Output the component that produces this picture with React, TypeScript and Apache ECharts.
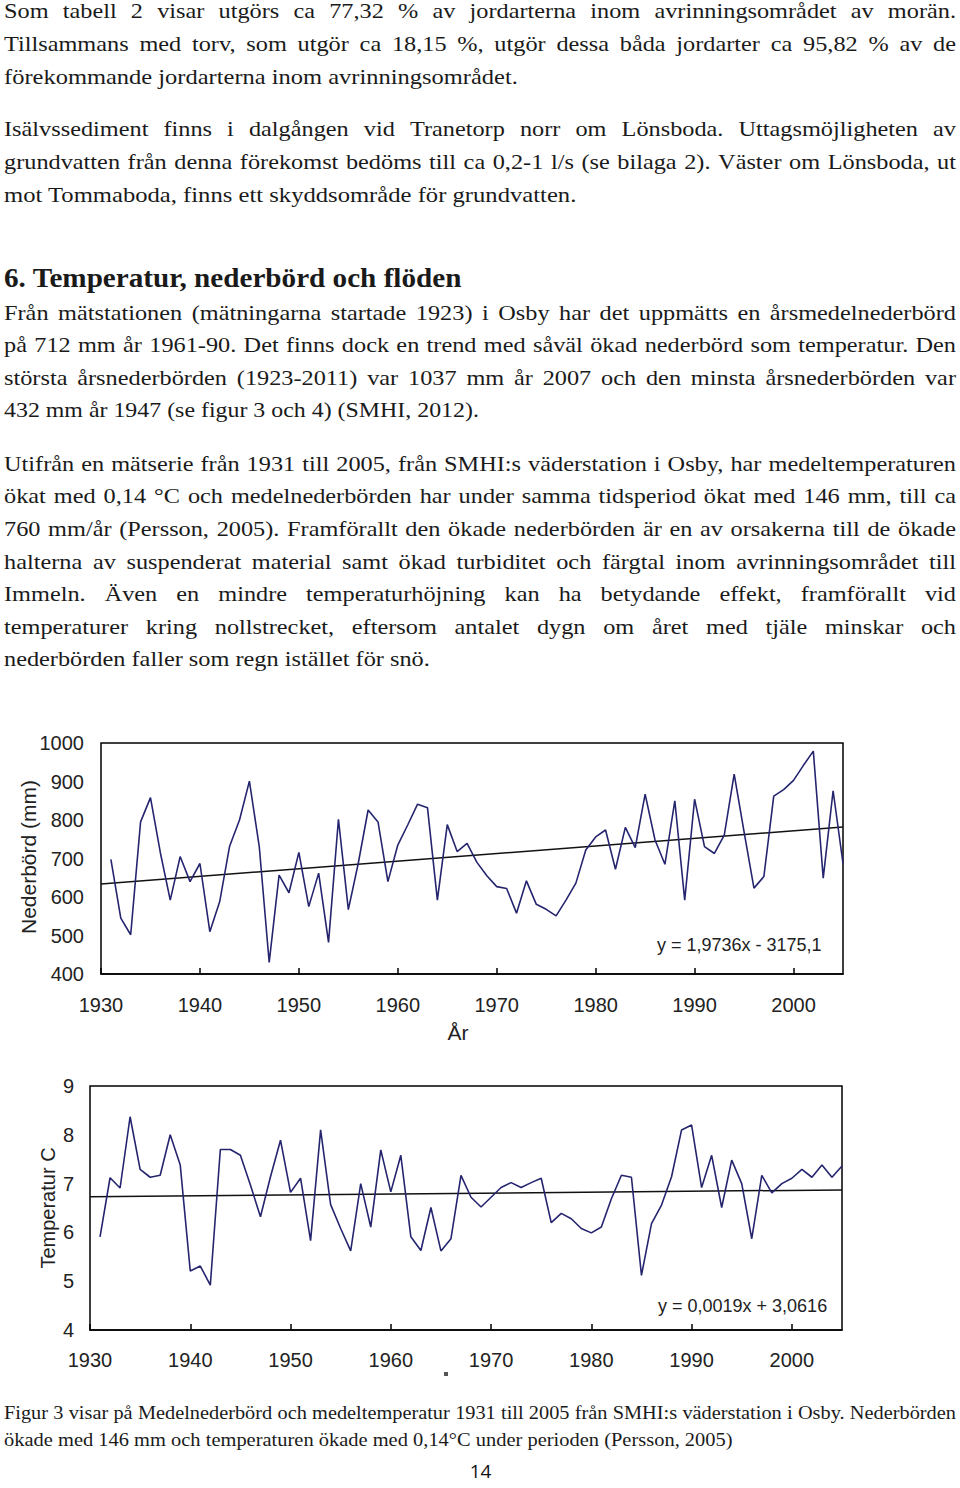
import React, { useEffect, useRef } from "react";
import * as echarts from "echarts";

// ---------- DATA ----------
const years = [
  1931, 1932, 1933, 1934, 1935, 1936, 1937, 1938, 1939, 1940,
  1941, 1942, 1943, 1944, 1945, 1946, 1947, 1948, 1949, 1950,
  1951, 1952, 1953, 1954, 1955, 1956, 1957, 1958, 1959, 1960,
  1961, 1962, 1963, 1964, 1965, 1966, 1967, 1968, 1969, 1970,
  1971, 1972, 1973, 1974, 1975, 1976, 1977, 1978, 1979, 1980,
  1981, 1982, 1983, 1984, 1985, 1986, 1987, 1988, 1989, 1990,
  1991, 1992, 1993, 1994, 1995, 1996, 1997, 1998, 1999, 2000,
  2001, 2002, 2003, 2004, 2005,
];

const precipitation = [
  698, 545, 502, 795, 858, 715, 592, 705, 640, 687,
  510, 588, 732, 800, 901, 730, 430, 657, 611, 716,
  575, 662, 482, 802, 567, 687, 826, 795, 640, 735,
  787, 841, 832, 592, 788, 718, 739, 690, 655, 627,
  622, 558, 642, 581, 568, 551, 592, 636, 722, 756,
  774, 672, 781, 728, 867, 748, 685, 850, 592, 854,
  731, 713, 761, 919, 769, 623, 653, 862, 879, 903,
  942, 979, 649, 876, 687,
];

const temperature = [
  5.91, 7.12, 6.91, 8.37, 7.29, 7.13, 7.17, 8.0, 7.38, 5.21,
  5.31, 4.92, 7.7, 7.7, 7.58, 6.97, 6.32, 7.14, 7.89, 6.82,
  7.11, 5.83, 8.1, 6.57, 6.08, 5.62, 7.0, 6.11, 7.69, 6.83,
  7.58, 5.91, 5.63, 6.51, 5.62, 5.87, 7.17, 6.72, 6.52, 6.72,
  6.92, 7.02, 6.92, 7.02, 7.11, 6.2, 6.39, 6.28, 6.08, 5.99,
  6.11, 6.69, 7.17, 7.13, 5.12, 6.18, 6.56, 7.14, 8.1, 8.2,
  6.92, 7.58, 6.51, 7.48, 7.0, 5.87, 7.17, 6.81, 7.0, 7.11,
  7.29, 7.13, 7.38, 7.13, 7.36,
];

const trendYears = [1930, 2005];
const precipTrend = [633.9, 781.9];
const tempTrend = [6.729, 6.871];

const precipEquation = "y = 1,9736x - 3175,1";
const tempEquation = "y = 0,0019x + 3,0616";
const precipAxisTitle = "Nederbörd (mm)";
const tempAxisTitle = "Temperatur C";
const yearAxisTitle = "År";

const paragraph1 = [
  "Som tabell 2 visar utgörs ca 77,32 % av jordarterna inom avrinningsområdet av morän.",
  "Tillsammans med torv, som utgör ca 18,15 %, utgör dessa båda jordarter ca 95,82 % av de",
  "förekommande jordarterna inom avrinningsområdet.",
];
const paragraph2 = [
  "Isälvssediment finns i dalgången vid Tranetorp norr om Lönsboda. Uttagsmöjligheten av",
  "grundvatten från denna förekomst bedöms till ca 0,2-1 l/s (se bilaga 2). Väster om Lönsboda, ut",
  "mot Tommaboda, finns ett skyddsområde för grundvatten.",
];
const heading = "6. Temperatur, nederbörd och flöden";
const paragraph3 = [
  "Från mätstationen (mätningarna startade 1923) i Osby har det uppmätts en årsmedelnederbörd",
  "på 712 mm år 1961-90.  Det finns dock en trend med såväl ökad nederbörd som temperatur. Den",
  "största årsnederbörden (1923-2011) var 1037 mm år 2007 och den minsta årsnederbörden var",
  "432 mm år 1947 (se figur 3 och 4) (SMHI, 2012).",
];
const paragraph4 = [
  "Utifrån en mätserie från 1931 till 2005, från SMHI:s väderstation i Osby, har medeltemperaturen",
  "ökat med 0,14 °C och medelnederbörden har under samma tidsperiod ökat med 146 mm, till ca",
  "760 mm/år (Persson, 2005). Framförallt den ökade nederbörden är en av orsakerna till de ökade",
  "halterna av suspenderat material samt ökad turbiditet och färgtal inom avrinningsområdet till",
  "Immeln. Även en mindre temperaturhöjning kan ha betydande effekt, framförallt vid",
  "temperaturer kring nollstrecket, eftersom antalet dygn om året med tjäle minskar och",
  "nederbörden faller som regn istället för snö.",
];
const caption = [
  "Figur 3 visar på Medelnederbörd och medeltemperatur 1931 till 2005 från SMHI:s väderstation i Osby. Nederbörden",
  "ökade med 146 mm och temperaturen ökade med 0,14°C under perioden (Persson, 2005)",
];
const pageNumber = "14";

// ---------- LAYOUT ----------
const SERIF = '"Liberation Serif", "Times New Roman", serif';
const SANS = '"Liberation Sans", Arial, sans-serif';
const TEXT_COLOR = "#1a1a1a";
const LEFT = 4;
const RIGHT = 956;
const BODY_FS = 21.5;
const CAP_FS = 18;
const HSCALE = 1.13;

type LineSpec = {
  text: string;
  baseline: number;
  mode: "justify" | "fit";
  end: number;
  fs: number;
  weight?: string;
};

function buildLines(): LineSpec[] {
  const out: LineSpec[] = [];
  const add = (lines: string[], baselines: number[], ends: number[], fs: number) => {
    lines.forEach((t, i) => {
      const last = i === lines.length - 1;
      out.push({
        text: t,
        baseline: baselines[i],
        mode: last ? "fit" : "justify",
        end: last ? ends[0] : RIGHT,
        fs,
      });
    });
  };
  add(paragraph1, [18.5, 51, 83.5], [518], BODY_FS);
  add(paragraph2, [136.5, 169, 201.5], [577], BODY_FS);
  out.push({ text: heading, baseline: 287.5, mode: "fit", end: 462, fs: 28, weight: "bold" });
  add(paragraph3, [320, 352.5, 385, 417], [479], BODY_FS);
  add(paragraph4, [471, 503.6, 536.2, 568.8, 601.4, 634, 666.6], [430], BODY_FS);
  add(caption, [1418.5, 1446], [733], CAP_FS);
  return out;
}

function textElements(): any[] {
  const canvas = document.createElement("canvas");
  const ctx = canvas.getContext("2d") as CanvasRenderingContext2D;
  const measure = (t: string, fs: number, weight: string) => {
    ctx.font = `${weight} ${fs}px ${SERIF}`;
    return ctx.measureText(t).width;
  };
  const els: any[] = [];
  for (const line of buildLines()) {
    const weight = line.weight || "normal";
    const yMid = line.baseline - 0.3375 * line.fs;
    const style = (t: string) => ({
      text: t,
      fontSize: line.fs,
      fontFamily: SERIF,
      fontWeight: weight,
      fill: TEXT_COLOR,
      align: "left",
      verticalAlign: "middle",
    });
    if (line.mode === "fit") {
      const w = measure(line.text, line.fs, weight);
      els.push({
        type: "text",
        x: LEFT,
        y: yMid,
        scaleX: (line.end - LEFT) / w,
        silent: true,
        style: style(line.text),
      });
    } else {
      const words = line.text.split(/ +/);
      const raw = words.map((w) => measure(w, line.fs, weight));
      const avail = line.end - LEFT;
      const minGap = 0.18 * line.fs;
      const rawSum = raw.reduce((a, b) => a + b, 0);
      let sc = HSCALE;
      if (rawSum * sc + minGap * (words.length - 1) > avail) {
        sc = (avail - minGap * (words.length - 1)) / rawSum;
      }
      const gap = (avail - rawSum * sc) / Math.max(1, words.length - 1);
      let x = LEFT;
      words.forEach((w, i) => {
        els.push({
          type: "text",
          x,
          y: yMid,
          scaleX: sc,
          silent: true,
          style: style(w),
        });
        x += raw[i] * sc + gap;
      });
    }
  }
  els.push({
    type: "text",
    x: 480.5,
    y: 1471,
    silent: true,
    style: { text: pageNumber, fontSize: 19, fontFamily: '"Open Sans", sans-serif', fill: "#111", align: "center", verticalAlign: "middle" },
  });
  return els;
}

const LINE_COLOR = "#25256f";
const AXIS_TEXT = "#222";
const plain = (v: number) => String(v);

export default function App() {
  const ref = useRef<HTMLDivElement>(null);
  useEffect(() => {
    if (!ref.current) return;
    const chart = echarts.init(ref.current, undefined, { renderer: "svg" });
    const precipData = years.map((y, i) => [y, precipitation[i]]);
    const tempData = years.map((y, i) => [y, temperature[i]]);
    const precipTrendData = trendYears.map((y, i) => [y, precipTrend[i]]);
    const tempTrendData = trendYears.map((y, i) => [y, tempTrend[i]]);

    const xAxisBase = (gridIndex: number, margin: number) => ({
      type: "value",
      gridIndex,
      min: 1930,
      max: 2005,
      interval: 10,
      axisLine: { show: true, lineStyle: { color: "#000", width: 1.5 } },
      axisTick: { show: true, inside: true, length: 6, lineStyle: { color: "#000", width: 1.5 } },
      axisLabel: { show: true, showMaxLabel: false, margin, fontSize: 20, fontFamily: SANS, color: AXIS_TEXT, formatter: plain },
      splitLine: { show: false },
    });
    const yAxisBase = (gridIndex: number, min: number, max: number, interval: number, margin: number) => ({
      type: "value",
      gridIndex,
      min,
      max,
      interval,
      axisLine: { show: false },
      axisTick: { show: false },
      axisLabel: { show: true, margin, fontSize: 20, fontFamily: SANS, color: AXIS_TEXT, formatter: plain },
      splitLine: { show: false },
    });

    const chartTexts = [
      {
        type: "text",
        x: 28,
        y: 857,
        rotation: Math.PI / 2,
        silent: true,
        style: { text: precipAxisTitle, fontSize: 21, fontFamily: SANS, fill: AXIS_TEXT, align: "center", verticalAlign: "middle" },
      },
      {
        type: "text",
        x: 458,
        y: 1032,
        silent: true,
        style: { text: yearAxisTitle, fontSize: 21, fontFamily: SANS, fill: AXIS_TEXT, align: "center", verticalAlign: "middle" },
      },
      {
        type: "text",
        x: 657,
        y: 945,
        silent: true,
        style: { text: precipEquation, fontSize: 18, fontFamily: SANS, fill: AXIS_TEXT, align: "left", verticalAlign: "middle" },
      },
      {
        type: "text",
        x: 48,
        y: 1208,
        rotation: Math.PI / 2,
        silent: true,
        style: { text: tempAxisTitle, fontSize: 20, fontFamily: SANS, fill: AXIS_TEXT, align: "center", verticalAlign: "middle" },
      },
      {
        type: "text",
        x: 658,
        y: 1306,
        silent: true,
        style: { text: tempEquation, fontSize: 18, fontFamily: SANS, fill: AXIS_TEXT, align: "left", verticalAlign: "middle" },
      },
      {
        type: "rect",
        silent: true,
        shape: { x: 444, y: 1372, width: 4, height: 4 },
        style: { fill: "#555" },
      },
    ];

    chart.setOption({
      animation: false,
      backgroundColor: "#fff",
      grid: [
        { left: 101, top: 743, width: 742, height: 231, show: true, borderColor: "#000", borderWidth: 1.5, containLabel: false },
        { left: 90, top: 1086, width: 752, height: 244, show: true, borderColor: "#000", borderWidth: 1.5, containLabel: false },
      ],
      xAxis: [xAxisBase(0, 21), xAxisBase(1, 19.5)],
      yAxis: [yAxisBase(0, 400, 1000, 100, 17), yAxisBase(1, 4, 9, 1, 16)],
      series: [
        {
          type: "line",
          xAxisIndex: 0,
          yAxisIndex: 0,
          data: precipTrendData,
          showSymbol: false,
          lineStyle: { color: "#111", width: 1.5 },
          silent: true,
        },
        {
          type: "line",
          xAxisIndex: 0,
          yAxisIndex: 0,
          data: precipData,
          showSymbol: false,
          lineStyle: { color: LINE_COLOR, width: 1.6 },
          silent: true,
        },
        {
          type: "line",
          xAxisIndex: 1,
          yAxisIndex: 1,
          data: tempTrendData,
          showSymbol: false,
          lineStyle: { color: "#111", width: 1.5 },
          silent: true,
        },
        {
          type: "line",
          xAxisIndex: 1,
          yAxisIndex: 1,
          data: tempData,
          showSymbol: false,
          lineStyle: { color: LINE_COLOR, width: 1.6 },
          silent: true,
        },
      ],
      graphic: [...textElements(), ...chartTexts],
    });
    return () => chart.dispose();
  }, []);
  return (
    <div
      ref={ref}
      style={{ position: "absolute", left: 0, top: 0, width: 960, height: 1488, background: "#fff" }}
    />
  );
}
